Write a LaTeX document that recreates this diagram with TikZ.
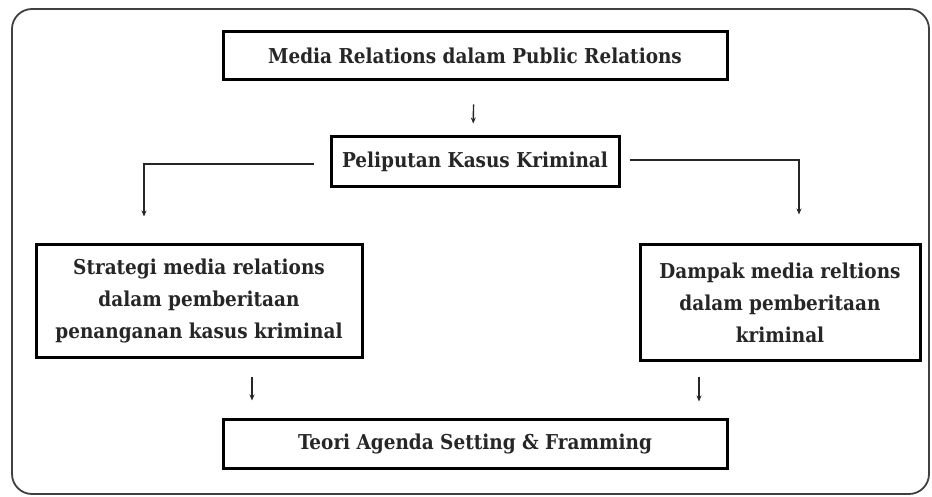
\documentclass[tikz,border=0pt]{standalone}
\usepackage{fontspec}
\setmainfont{DejaVu Serif Condensed}
\usetikzlibrary{positioning,arrows.meta}

\tikzset{
	kotak/.style={draw=black, line width=3pt, align=center, inner sep=0pt,
		font=\bfseries\fontsize{20.5}{32}\selectfont, text=black!85},
	panah/.style={draw=black!85, line width=1.4pt, -{Stealth[length=6pt,width=5pt]}},
}

\begin{document}
\begin{tikzpicture}[x=1pt, y=-1pt]
	\useasboundingbox (0,0) rectangle (932,497);
	\draw[black!75, line width=1.8pt, rounded corners=20pt] (12,9) rectangle (929,494);
	
	\node[kotak, minimum width=504pt, minimum height=48pt] (media) at (475,56) {Media Relations dalam Public Relations};
	\node[kotak, minimum width=288pt, minimum height=50pt, below=54pt of media] (liputan) {Peliputan Kasus Kriminal};
	\node[kotak, minimum width=326pt, minimum height=112pt] (strategi) at (199,301) {Strategi media relations\\dalam pemberitaan\\penanganan kasus kriminal};
	\node[kotak, minimum width=280pt, minimum height=115pt] (dampak) at (780,302.5) {Dampak media reltions\\dalam pemberitaan\\kriminal};
	\node[kotak, minimum width=504pt, minimum height=49pt] (teori) at (475,443.5) {Teori Agenda Setting \& Framming};
	
	\draw[panah, shorten <=23pt, shorten >=12pt] ([xshift=-1pt]media.south) -- ([xshift=-2pt]liputan.north);
	\draw[panah] ([xshift=-16pt,yshift=-2pt]liputan.west) -| ([xshift=-55pt,yshift=27pt]strategi.north);
	\draw[panah] ([xshift=9pt,yshift=2pt]liputan.east) -| ([xshift=19pt,yshift=29pt]dampak.north);
	\draw[panah, shorten <=18pt, shorten >=17pt] ([xshift=53pt]strategi.south) -- ([xshift=-223pt]teori.north);
	\draw[panah, shorten <=15pt, shorten >=16pt] ([xshift=-81pt]dampak.south) -- ([xshift=224pt]teori.north);
\end{tikzpicture}
\end{document}
